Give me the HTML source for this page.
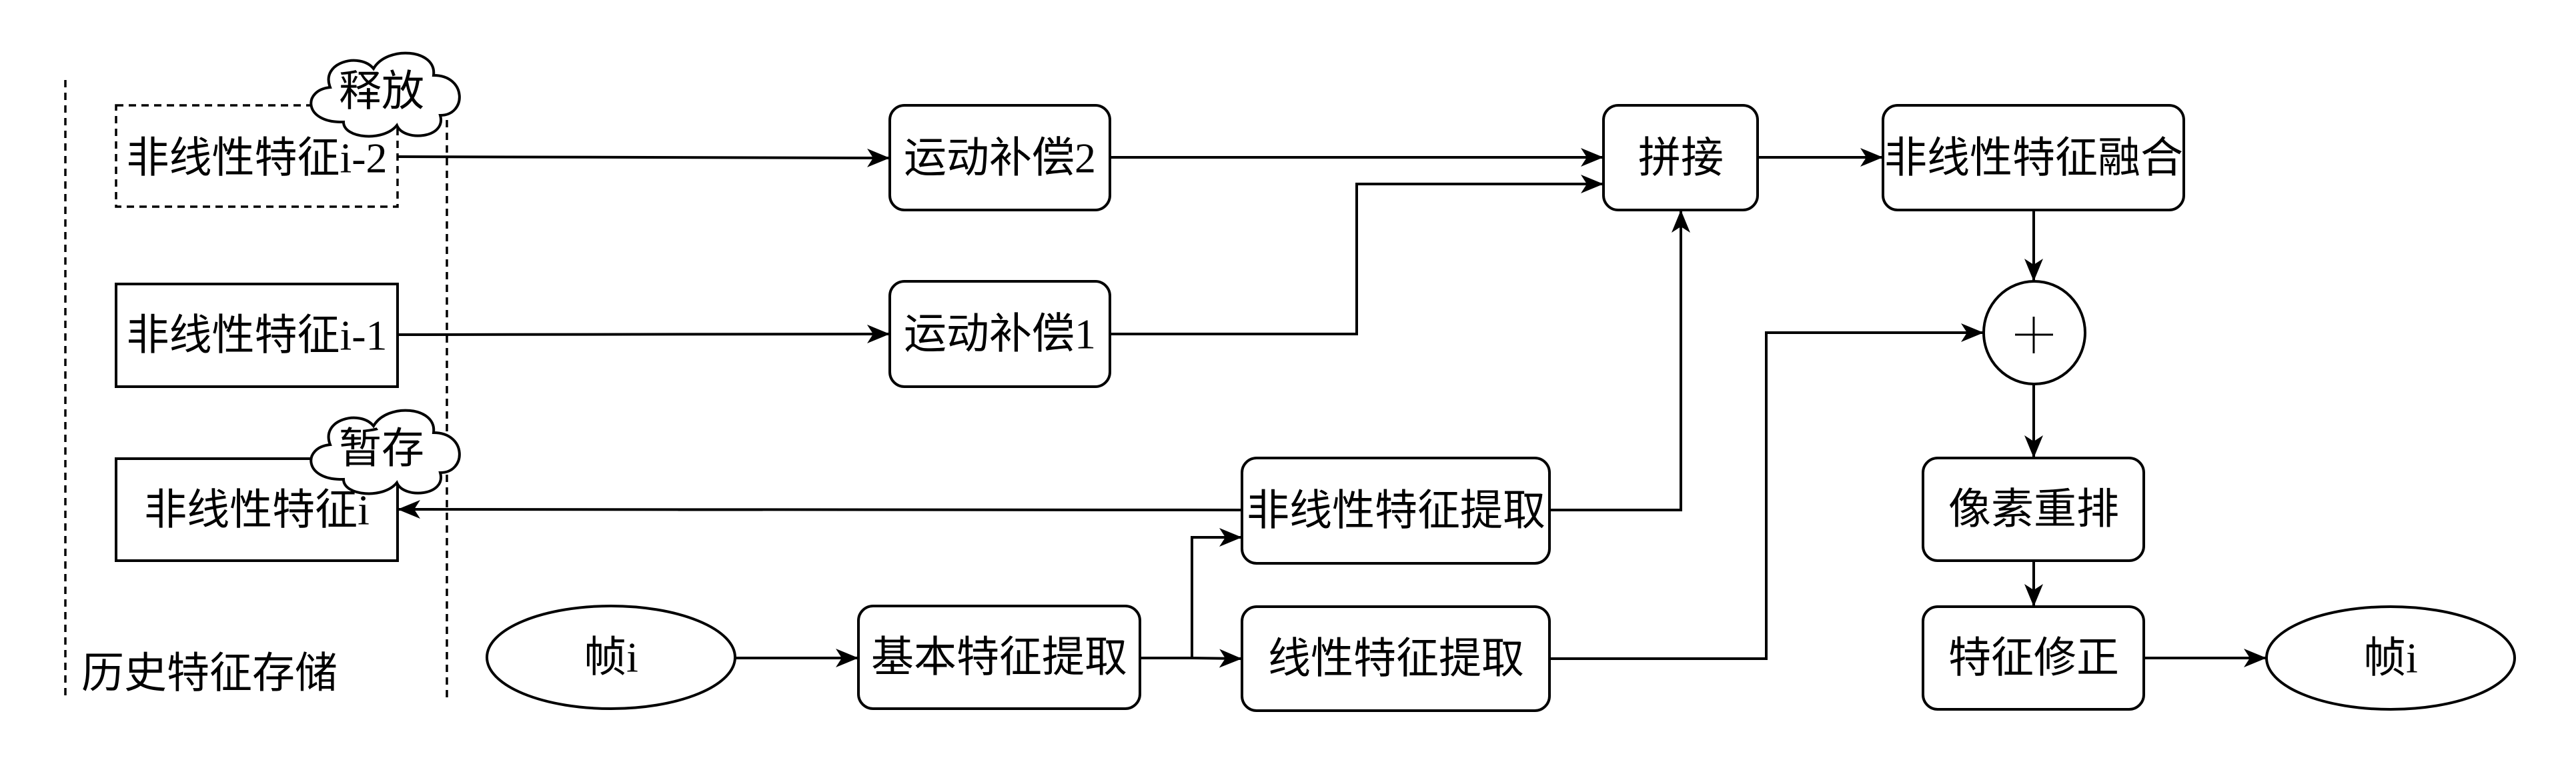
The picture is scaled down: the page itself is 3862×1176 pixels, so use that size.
<!DOCTYPE html>
<html><head><meta charset="utf-8"><style>
html,body{margin:0;padding:0;background:#fff;}
svg{display:block;}
text{font-family:"Liberation Serif","Noto Sans CJK SC",serif;font-size:64px;fill:#000;}
</style></head><body>
<svg width="3862" height="1176" viewBox="0 0 3862 1176" xmlns="http://www.w3.org/2000/svg">
<defs>
<marker id="a" markerUnits="userSpaceOnUse" markerWidth="40" markerHeight="32" refX="34" refY="14" orient="auto">
<path d="M0,0 L34,14 L0,28 L9,14 Z" fill="#000"/>
</marker>
</defs>
<g fill="none" stroke="#000" stroke-width="3.5" stroke-dasharray="11 8">
<line x1="98" y1="120" x2="98" y2="1046"/>
<line x1="670" y1="180" x2="670" y2="1046"/>
<rect x="174" y="158" width="422" height="152"/>
</g>
<g fill="#fff" stroke="#000" stroke-width="4">
<rect x="174" y="426" width="422" height="154"/>
<rect x="174" y="688" width="422" height="153"/>
<rect x="1334" y="158" width="330" height="157" rx="22"/>
<rect x="1334" y="422" width="330" height="158" rx="22"/>
<rect x="2404" y="158" width="231" height="157" rx="22"/>
<rect x="2823" y="158" width="451" height="157" rx="22"/>
<rect x="1862" y="687" width="461" height="158" rx="22"/>
<rect x="1862" y="910" width="461" height="156" rx="22"/>
<rect x="1287" y="909" width="422" height="154" rx="22"/>
<rect x="2883" y="687" width="331" height="154" rx="22"/>
<rect x="2883" y="910" width="331" height="154" rx="22"/>
<ellipse cx="916" cy="986" rx="186" ry="77"/>
<ellipse cx="3584" cy="987" rx="186" ry="77"/>
<ellipse cx="3050" cy="499" rx="76" ry="77"/>
</g>
<g fill="none" stroke="#000" stroke-width="4">
<polyline points="596,235 1334,237" marker-end="url(#a)"/>
<polyline points="596,502 1334,501" marker-end="url(#a)"/>
<polyline points="1664,236 2404,236" marker-end="url(#a)"/>
<polyline points="1664,501 2034,501 2034,276 2404,276" marker-end="url(#a)"/>
<polyline points="2323,765 2520,765 2520,315" marker-end="url(#a)"/>
<polyline points="1862,765 596,764" marker-end="url(#a)"/>
<polyline points="1103,987 1287,987" marker-end="url(#a)"/>
<polyline points="1709,987 1787,987 1787,806 1862,806" marker-end="url(#a)"/>
<polyline points="1787,987 1862,988" marker-end="url(#a)"/>
<polyline points="2323,988 2648,988 2648,499 2974,499" marker-end="url(#a)"/>
<polyline points="2635,236 2823,236" marker-end="url(#a)"/>
<polyline points="3049,315 3049,422" marker-end="url(#a)"/>
<polyline points="3049,576 3049,687" marker-end="url(#a)"/>
<polyline points="3049,841 3049,910" marker-end="url(#a)"/>
<polyline points="3214,987 3398,987" marker-end="url(#a)"/>
</g>
<g stroke="#000" stroke-width="3">
<line x1="3021" y1="502" x2="3078" y2="502"/>
<line x1="3049" y1="475" x2="3049" y2="530"/>
</g>
<g fill="#fff" stroke="#000" stroke-width="4">
<path transform="translate(455,73)" d="M60,110 C0,112 -2,62 40,58 C25,20 85,5 105,30 C125,-5 200,0 195,40 C245,40 245,100 205,100 C215,135 150,140 140,115 C120,140 60,135 60,110 Z"/>
<path transform="translate(455,609)" d="M60,110 C0,112 -2,62 40,58 C25,20 85,5 105,30 C125,-5 200,0 195,40 C245,40 245,100 205,100 C215,135 150,140 140,115 C120,140 60,135 60,110 Z"/>
</g>
<g text-anchor="middle" dominant-baseline="central">
<text x="572" y="137">释放</text>
<text x="572" y="673">暂存</text>
<text x="385" y="237">非线性特征i-2</text>
<text x="385" y="503">非线性特征i-1</text>
<text x="385" y="765">非线性特征i</text>
<text x="1499" y="237">运动补偿2</text>
<text x="1499" y="501">运动补偿1</text>
<text x="2520" y="237">拼接</text>
<text x="3049" y="237">非线性特征融合</text>
<text x="2093" y="766">非线性特征提取</text>
<text x="2093" y="988">线性特征提取</text>
<text x="1498" y="986">基本特征提取</text>
<text x="3049" y="764">像素重排</text>
<text x="3049" y="987">特征修正</text>
<text x="916" y="986">帧i</text>
<text x="3584" y="987">帧i</text>
</g>
<text x="122" y="1010" dominant-baseline="central">历史特征存储</text>
</svg>
</body></html>
